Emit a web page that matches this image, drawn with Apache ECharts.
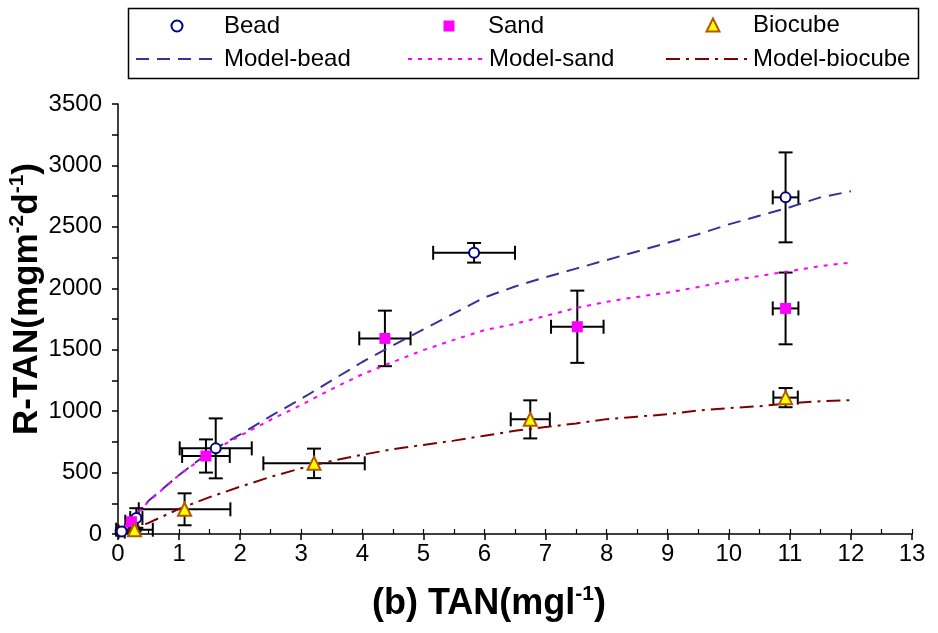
<!DOCTYPE html>
<html>
<head>
<meta charset="utf-8">
<script src="https://cdn.jsdelivr.net/npm/echarts@6/dist/echarts.min.js"></script>
<style>
  html, body { margin: 0; padding: 0; background: #fff; }
  #chart { width: 938px; height: 633px; }
</style>
</head>
<body>
<div id="chart"></div>
<script>
// Measured removal rates with their spread (x: TAN, y: R-TAN)
const beadX    = [0.06, 0.30, 1.60, 5.83, 10.93];
const beadY    = [20, 130, 697, 2289, 2740];
const beadXErr = [0.05, 0.10, 0.59, 0.67, 0.21];
const beadYErr = [10, 80, 244, 80, 366];

const sandX    = [0.22, 1.44, 4.37, 7.52, 10.93];
const sandY    = [100, 635, 1592, 1687, 1836];
const sandXErr = [0.10, 0.39, 0.42, 0.43, 0.21];
const sandYErr = [30, 135, 226, 294, 292];

const bioX     = [0.27, 1.09, 3.21, 6.75, 10.93];
const bioY     = [35, 201, 575, 933, 1110];
const bioXErr  = [0.30, 0.75, 0.83, 0.32, 0.20];
const bioYErr  = [15, 130, 120, 155, 78];

// Model curves sampled along TAN
const modelX       = [0, 0.5, 1, 1.5, 2, 2.5, 3, 3.5, 4, 4.5, 5, 5.5, 6, 6.5, 7, 7.5, 8, 8.5, 9, 9.5, 10, 10.5, 11, 11.5, 12];
const modelBead    = [0, 270, 480, 670, 810, 960, 1100, 1250, 1400, 1535, 1665, 1795, 1925, 2015, 2090, 2160, 2230, 2300, 2370, 2440, 2520, 2590, 2660, 2740, 2790];
const modelSand    = [0, 265, 480, 660, 800, 930, 1050, 1180, 1300, 1400, 1497, 1580, 1660, 1710, 1775, 1840, 1890, 1930, 1965, 2010, 2060, 2100, 2140, 2180, 2210];
const modelBiocube = [0, 90, 205, 300, 385, 465, 535, 595, 645, 690, 725, 760, 800, 840, 870, 900, 935, 955, 975, 1005, 1025, 1040, 1065, 1080, 1090];

const FONT = "'Liberation Sans', Arial, Helvetica, sans-serif";

function points(xs, ys) { return xs.map((x, i) => [x, ys[i]]); }
function errRows(xs, ys, exs, eys) { return xs.map((x, i) => [x, ys[i], exs[i], eys[i]]); }

function renderErrorBars(params, api) {
  const x = api.value(0), y = api.value(1), ex = api.value(2), ey = api.value(3);
  const c = api.coord([x, y]);
  const l = api.coord([x - ex, y])[0];
  const r = api.coord([x + ex, y])[0];
  const t = api.coord([x, y + ey])[1];
  const b = api.coord([x, y - ey])[1];
  const cap = 7;
  const st = () => ({ stroke: '#000', lineWidth: 2 });
  return {
    type: 'group',
    children: [
      { type: 'line', shape: { x1: l, y1: c[1], x2: r, y2: c[1] }, style: st() },
      { type: 'line', shape: { x1: l, y1: c[1] - cap, x2: l, y2: c[1] + cap }, style: st() },
      { type: 'line', shape: { x1: r, y1: c[1] - cap, x2: r, y2: c[1] + cap }, style: st() },
      { type: 'line', shape: { x1: c[0], y1: t, x2: c[0], y2: b }, style: st() },
      { type: 'line', shape: { x1: c[0] - cap, y1: t, x2: c[0] + cap, y2: t }, style: st() },
      { type: 'line', shape: { x1: c[0] - cap, y1: b, x2: c[0] + cap, y2: b }, style: st() }
    ]
  };
}

function errSeries(rows) {
  return {
    type: 'custom', renderItem: renderErrorBars, data: rows,
    encode: { x: 0, y: 1 }, z: 2, silent: true, clip: false
  };
}

const legendText = { fontFamily: FONT, fontSize: 24, color: '#000' };

// Marker entries: a small icon, then the label pushed out to its column
function markerLegend(name, iconCenter, textLeft, top, icon, size, itemStyle) {
  return {
    data: [{ name: name, icon: icon, itemStyle: itemStyle }],
    left: iconCenter - size / 2, top: top, padding: 0,
    itemWidth: size, itemHeight: size, selectedMode: false,
    textStyle: Object.assign({}, legendText, { padding: [0, 0, 0, textLeft - (iconCenter + size / 2) - 5] })
  };
}
// Line entries: the line sample runs up to the label
function lineLegend(name, lineLeft, lineWidth, top) {
  return {
    data: [name], left: lineLeft, top: top, padding: 0,
    itemWidth: lineWidth, itemHeight: 12, selectedMode: false,
    itemStyle: { opacity: 0, borderWidth: 0 },
    textStyle: legendText
  };
}

const chart = echarts.init(document.getElementById('chart'), null, { renderer: 'canvas' });

chart.setOption({
  animation: false,
  backgroundColor: '#fff',
  grid: { left: 118, right: 26, top: 104, bottom: 99, containLabel: false, outerBoundsMode: 'none' },
  graphic: [{
    type: 'rect', shape: { x: 128.5, y: 8.5, width: 790, height: 70 },
    style: { fill: null, stroke: '#000', lineWidth: 1.5 }, silent: true
  }],
  legend: [
    markerLegend('Bead', 176, 223, 14, 'circle', 11, { color: '#fff', borderColor: '#000080', borderWidth: 2 }),
    markerLegend('Sand', 449, 488, 14, 'rect', 11, { color: '#ff00ff', borderWidth: 0 }),
    markerLegend('Biocube', 712, 752, 13, 'triangle', 13, { color: '#ffff00', borderColor: '#b35900', borderWidth: 2 }),
    lineLegend('Model-bead', 135, 83, 47),
    lineLegend('Model-sand', 407, 76, 47),
    lineLegend('Model-biocube', 665, 82, 47)
  ],
  xAxis: [{
    type: 'value', min: 0, max: 13, interval: 1,
    name: '(b) TAN(mgl{s|-1})', nameLocation: 'middle', nameGap: 50, nameMoveOverlap: false,
    nameTextStyle: {
      fontFamily: FONT, fontSize: 36, fontWeight: 'bold', color: '#000', lineHeight: 40,
      padding: [0, 52, 0, 0],
      rich: { s: { fontFamily: FONT, fontSize: 21, fontWeight: 'bold', color: '#000', verticalAlign: 'top', lineHeight: 20 } }
    },
    axisLine: { lineStyle: { color: '#000', width: 1.5 } },
    axisTick: { length: 6, lineStyle: { color: '#000', width: 1.5 } },
    axisLabel: { fontFamily: FONT, fontSize: 24, color: '#000', margin: 8 },
    splitLine: { show: false }
  }, {
    type: 'value', min: 0, max: 13, interval: 0.5, position: 'bottom',
    axisLine: { show: false },
    axisTick: { inside: true, length: 5, lineStyle: { color: '#000', width: 1.2 } },
    axisLabel: { show: false },
    splitLine: { show: false }
  }],
  yAxis: {
    type: 'value', min: 0, max: 3500, interval: 250,
    name: 'R-TAN(mgm{s|-2}d{s|-1})', nameLocation: 'middle', nameGap: 71, nameRotate: 90,
    nameMoveOverlap: false,
    nameTextStyle: {
      fontFamily: FONT, fontSize: 35, fontWeight: 'bold', color: '#000', lineHeight: 40,
      padding: [0, 0, 0, 40],
      rich: { s: { fontFamily: FONT, fontSize: 21, fontWeight: 'bold', color: '#000', verticalAlign: 'top', lineHeight: 21 } }
    },
    axisLine: { show: true, lineStyle: { color: '#000', width: 1.5 } },
    axisTick: { show: true, length: 6, lineStyle: { color: '#000', width: 1.5 } },
    axisLabel: {
      fontFamily: FONT, fontSize: 24, color: '#000', margin: 16,
      formatter: v => (v % 500 === 0 ? String(v) : '')
    },
    splitLine: { show: false }
  },
  series: [
    errSeries(errRows(beadX, beadY, beadXErr, beadYErr)),
    errSeries(errRows(sandX, sandY, sandXErr, sandYErr)),
    errSeries(errRows(bioX, bioY, bioXErr, bioYErr)),
    {
      name: 'Model-bead', type: 'line', data: points(modelX, modelBead), symbol: 'none', z: 3,
      lineStyle: { color: '#333399', width: 2, type: [13, 8] }, itemStyle: { color: '#333399' }
    },
    {
      name: 'Model-sand', type: 'line', data: points(modelX, modelSand), symbol: 'none', z: 3,
      lineStyle: { color: '#ff00ff', width: 2, type: [4, 6] }, itemStyle: { color: '#ff00ff' }
    },
    {
      name: 'Model-biocube', type: 'line', data: points(modelX, modelBiocube), symbol: 'none', z: 3,
      lineStyle: { color: '#800000', width: 2, type: [14, 6, 3, 6] }, itemStyle: { color: '#800000' }
    },
    {
      name: 'Bead', type: 'scatter', data: points(beadX, beadY), symbol: 'circle', symbolSize: 10, z: 4,
      itemStyle: { color: '#fff', borderColor: '#000080', borderWidth: 2, opacity: 1 }
    },
    {
      name: 'Sand', type: 'scatter', data: points(sandX, sandY), symbol: 'rect', symbolSize: 11, z: 4,
      itemStyle: { color: '#ff00ff', opacity: 1 }
    },
    {
      name: 'Biocube', type: 'scatter', data: points(bioX, bioY), symbol: 'triangle', symbolSize: 13, z: 4,
      itemStyle: { color: '#ffff00', borderColor: '#b35900', borderWidth: 2, opacity: 1 }
    }
  ]
});
</script>
</body>
</html>
